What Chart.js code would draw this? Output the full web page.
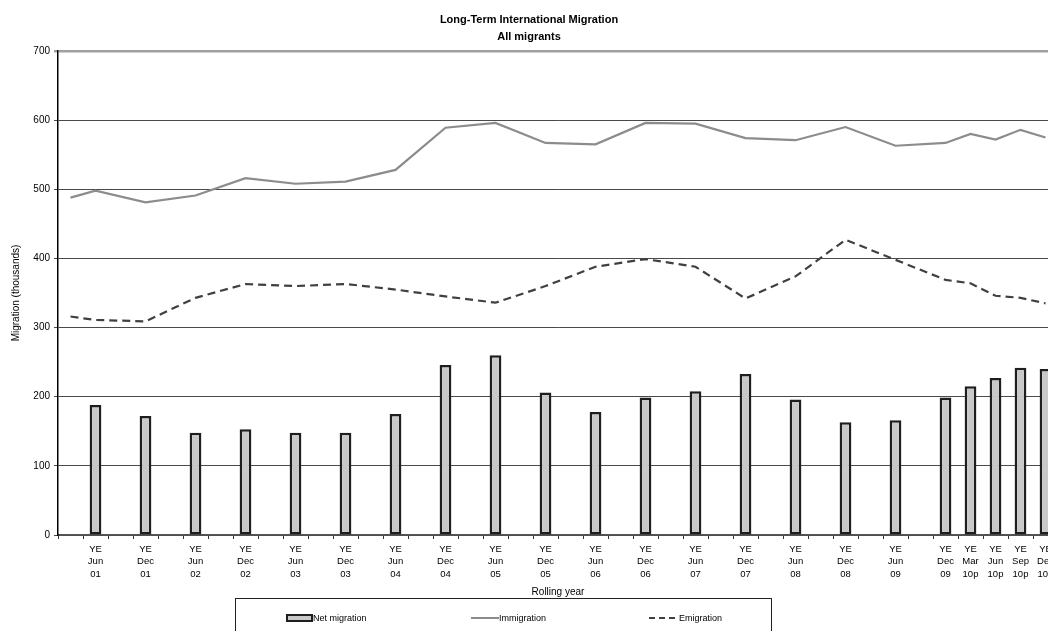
<!DOCTYPE html>
<html>
<head>
<meta charset="utf-8">
<title>Long-Term International Migration</title>
<script src="https://cdn.jsdelivr.net/npm/chart.js@4.4.1/dist/chart.umd.min.js"></script>
<style>
  html, body { margin: 0; padding: 0; background: #fff; }
  body { width: 1048px; height: 631px; overflow: hidden; position: relative; font-family: 'Liberation Sans', Arial, sans-serif; }
  #wrap { position: absolute; left: 0; top: 0; width: 1102px; height: 631px; }
  .legend { position: absolute; left: 235px; top: 598px; width: 537px; height: 60px; border: 1px solid #222; box-sizing: border-box; }
  .legend .item { position: absolute; top: 13px; font-size: 9px; color: #000; line-height: 12px; white-space: nowrap; }
  .legend .sw { display: inline-block; vertical-align: middle; margin-top: -2px; }
  .sw-bar { width: 23px; height: 4px; background: #c8c8c8; border: 2px solid #1e1e1e; }
  .sw-imm { width: 28px; height: 0; border-top: 2px solid #8c8c8c; }
  .sw-emi { width: 26px; height: 0; border-top: 2px dashed #404040; margin-right: 4px; }
</style>
</head>
<body>
<div id="wrap"><canvas id="migrationChart" width="1102" height="631"></canvas></div>
<div class="legend">
  <div class="item" style="left:50px"><span class="sw sw-bar"></span>Net migration</div>
  <div class="item" style="left:235px"><span class="sw sw-imm"></span>Immigration</div>
  <div class="item" style="left:413px"><span class="sw sw-emi"></span>Emigration</div>
</div>
<script>
// Quarterly positions along the axis (rolling year ending)
const quarters = [
  'Mar 01', 'Jun 01', 'Sep 01', 'Dec 01', 'Mar 02', 'Jun 02', 'Sep 02', 'Dec 02',
  'Mar 03', 'Jun 03', 'Sep 03', 'Dec 03', 'Mar 04', 'Jun 04', 'Sep 04', 'Dec 04',
  'Mar 05', 'Jun 05', 'Sep 05', 'Dec 05', 'Mar 06', 'Jun 06', 'Sep 06', 'Dec 06',
  'Mar 07', 'Jun 07', 'Sep 07', 'Dec 07', 'Mar 08', 'Jun 08', 'Sep 08', 'Dec 08',
  'Mar 09', 'Jun 09', 'Sep 09', 'Dec 09', 'Mar 10p', 'Jun 10p', 'Sep 10p', 'Dec 10p'
];

// Labels shown under the axis ('' = no label)
const tickLabels = [
  '', 'YE Jun 01', '', 'YE Dec 01', '', 'YE Jun 02', '', 'YE Dec 02',
  '', 'YE Jun 03', '', 'YE Dec 03', '', 'YE Jun 04', '', 'YE Dec 04',
  '', 'YE Jun 05', '', 'YE Dec 05', '', 'YE Jun 06', '', 'YE Dec 06',
  '', 'YE Jun 07', '', 'YE Dec 07', '', 'YE Jun 08', '', 'YE Dec 08',
  '', 'YE Jun 09', '', 'YE Dec 09', 'YE Mar 10p', 'YE Jun 10p', 'YE Sep 10p', 'YE Dec 10p'
];

// thousands
const netMigration = [
  null, 188, null, 172, null, 148, null, 153, null, 148, null, 148, null, 175, null, 246,
  null, 260, null, 206, null, 178, null, 199, null, 208, null, 233, null, 196, null, 163,
  null, 166, null, 199, 215, 227, 242, 240
];
const immigration = [
  488, 498, null, 481, null, 491, null, 516, null, 508, null, 511, null, 528, null, 589,
  null, 596, null, 567, null, 565, null, 596, null, 595, null, 574, null, 571, null, 590,
  null, 563, null, 567, 580, 572, 586, 575
];
const emigration = [
  316, 311, null, 309, null, 343, null, 363, null, 360, null, 363, null, 355, null, 345,
  null, 336, null, 360, null, 388, null, 399, null, 388, null, 342, null, 374, null, 427,
  null, 398, null, 369, 364, 346, 343, 335
];

const yMin = 0, yMax = 700, yStep = 100;

Chart.defaults.font.family = "'Liberation Sans', Arial, sans-serif";
Chart.defaults.color = '#000';

const ctx = document.getElementById('migrationChart').getContext('2d');
new Chart(ctx, {
  type: 'bar',
  data: {
    labels: quarters,
    datasets: [
      {
        type: 'line',
        label: 'Immigration',
        data: immigration,
        borderColor: '#8c8c8c',
        borderWidth: 2.2,
        pointRadius: 0,
        tension: 0,
        spanGaps: true,
        order: 1
      },
      {
        type: 'line',
        label: 'Emigration',
        data: emigration,
        borderColor: '#404040',
        borderWidth: 2.2,
        borderDash: [8, 5],
        pointRadius: 0,
        tension: 0,
        spanGaps: true,
        order: 1
      },
      {
        label: 'Net migration',
        data: netMigration,
        backgroundColor: '#c8c8c8',
        borderColor: '#1e1e1e',
        borderWidth: 2.5,
        borderSkipped: false,
        barPercentage: 0.47,
        categoryPercentage: 1,
        order: 2
      }
    ]
  },
  options: {
    responsive: false,
    animation: false,
    layout: { padding: { left: 0, right: 44, top: 0, bottom: 33 } },
    plugins: {
      legend: { display: false },
      tooltip: { enabled: false },
      title: {
        display: true,
        text: ['Long-Term International Migration', 'All migrants'],
        font: { size: 11, weight: 'bold', lineHeight: 17 / 11 },
        color: '#000',
        padding: { top: 11.5, bottom: 5.5 }
      }
    },
    scales: {
      x: {
        grid: { display: true, drawOnChartArea: false, drawTicks: true, tickLength: 4, color: '#333', offset: true },
        border: { color: '#555', width: 1.5 },
        ticks: {
          autoSkip: false,
          maxRotation: 0,
          minRotation: 0,
          padding: 3.6,
          font: { size: 9.5, lineHeight: 12.7 / 9.5 },
          color: '#000',
          callback: (val, i) => tickLabels[i] ? tickLabels[i].split(' ') : ''
        },
        title: {
          display: true,
          text: 'Rolling year',
          font: { size: 10, lineHeight: 1.2 },
          padding: 0,
          color: '#000'
        },
        afterFit: (scale) => { scale.height = 63; }
      },
      y: {
        min: yMin,
        max: yMax,
        ticks: { stepSize: yStep, padding: 4, font: { size: 10 }, color: '#000' },
        grid: {
          drawTicks: true,
          tickLength: 4,
          color: (c) => c.tick && c.tick.value === yMax ? '#a0a0a0' : '#4a4a4a',
          lineWidth: (c) => c.tick && c.tick.value === yMax ? 2.5 : 1
        },
        border: { color: '#000', width: 1.5 },
        title: {
          display: true,
          text: 'Migration (thousands)',
          font: { size: 10, lineHeight: 1.2 },
          padding: { top: 10, bottom: 0 },
          color: '#000'
        },
        afterFit: (scale) => { scale.width = 58; }
      }
    }
  }
});
</script>
</body>
</html>
